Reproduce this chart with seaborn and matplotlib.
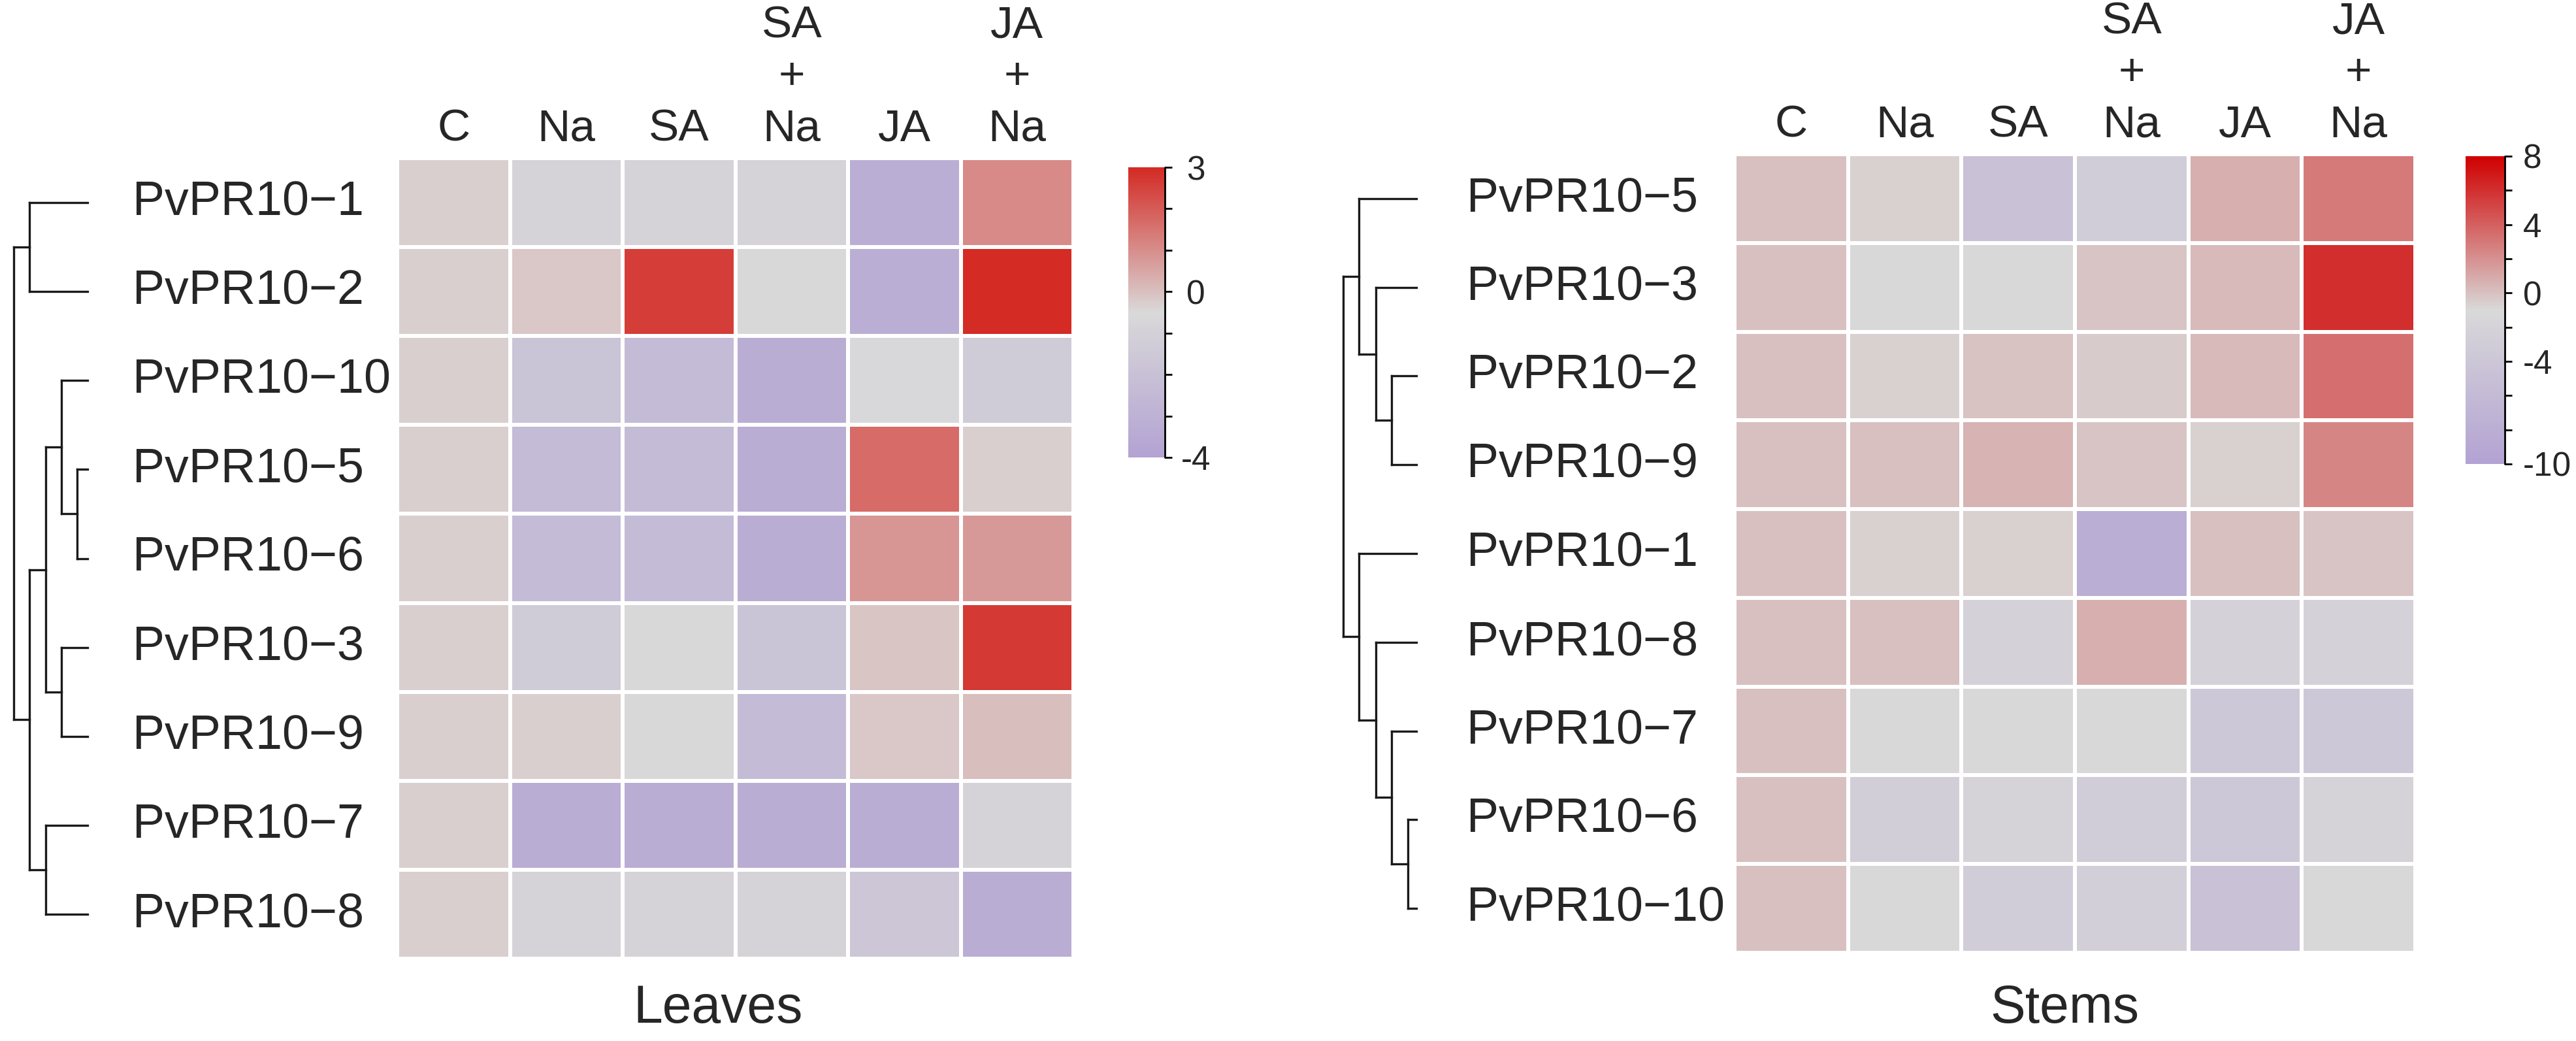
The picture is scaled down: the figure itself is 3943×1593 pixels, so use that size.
import numpy as np
import pandas as pd
import matplotlib
matplotlib.use("Agg")
import matplotlib.pyplot as plt
import seaborn as sns
from matplotlib.colors import LinearSegmentedColormap

# ---------------- data ----------------
treatments = ["C", "Na", "SA", "SA\n+\nNa", "JA", "JA\n+\nNa"]

leaves_genes = ["PvPR10−1", "PvPR10−2", "PvPR10−10", "PvPR10−5", "PvPR10−6",
                "PvPR10−3", "PvPR10−9", "PvPR10−7", "PvPR10−8"]
leaves_C    = [-0.30, -0.30, -0.30, -0.30, -0.30, -0.30, -0.30, -0.30, -0.30]
leaves_Na   = [-0.88, -0.16, -1.84, -2.41, -2.41, -1.39, -0.30, -3.30, -0.88]
leaves_SA   = [-0.88, 2.60, -2.41, -2.41, -2.41, -0.50, -0.50, -3.30, -0.88]
leaves_SANa = [-0.88, -0.50, -3.30, -3.30, -3.30, -1.84, -2.41, -3.30, -0.88]
leaves_JA   = [-3.24, -3.24, -0.63, 1.70, 0.86, -0.10, -0.16, -3.30, -1.71]
leaves_JANa = [1.08, 2.96, -1.39, -0.30, 0.76, 2.68, 0.02, -0.88, -3.30]

stems_genes = ["PvPR10−5", "PvPR10−3", "PvPR10−2", "PvPR10−9", "PvPR10−1",
               "PvPR10−8", "PvPR10−7", "PvPR10−6", "PvPR10−10"]
stems_C    = [0.05, 0.05, 0.05, 0.05, 0.05, 0.05, 0.05, 0.05, 0.05]
stems_Na   = [-0.6, -1.2, -0.6, 0.0, -0.6, 0.0, -1.2, -2.8, -1.2]
stems_SA   = [-4.8, -1.1, -0.05, 0.6, -0.6, -2.1, -1.1, -2.0, -3.0]
stems_SANa = [-3.0, -0.1, -0.4, -0.1, -8.0, 0.7, -1.1, -3.0, -2.6]
stems_JA   = [0.7, 0.3, 0.3, -0.6, 0.0, -2.1, -3.8, -3.8, -4.8]
stems_JANa = [3.0, 6.1, 3.4, 2.5, -0.1, -2.1, -3.8, -2.0, -1.2]

# dendrogram structure: (merge height, child, child)
leaves_tree = (113, (89, "PvPR10−1", "PvPR10−2"),
               (89, (64, (40, "PvPR10−10", (16, "PvPR10−5", "PvPR10−6")),
                     (40, "PvPR10−3", "PvPR10−9")),
                (64, "PvPR10−7", "PvPR10−8")))
stems_tree = (112, (88, "PvPR10−5", (62, "PvPR10−3", (38, "PvPR10−2", "PvPR10−9"))),
              (88, "PvPR10−1", (62, "PvPR10−8", (38, "PvPR10−7", (13, "PvPR10−6", "PvPR10−10")))))

leaves_ticks = [-4, -3, -2, -1, 0, 1, 2, 3]
leaves_ticklabels = ["-4", "", "", "", "0", "", "", "3"]
stems_ticks = [-10, -8, -6, -4, -2, 0, 2, 4, 6, 8]
stems_ticklabels = ["-10", "", "", "-4", "", "0", "", "4", "", "8"]

# ---------------- style ----------------
sns.set_theme(style="white")
plt.rcParams['font.family'] = ['Liberation Sans', 'DejaVu Sans']
plt.rcParams['axes.unicode_minus'] = False

W, H = 3943, 1593
fig = plt.figure(figsize=(W / 100, H / 100), dpi=100)
PT = 100 / 72.0  # px per point


def fx(px):
    return px / W


def fy(py):
    return 1 - py / H


def rect(x0, y0, x1, y1):
    return [fx(x0), fy(y1), fx(x1) - fx(x0), fy(y0) - fy(y1)]


def draw_tree(ax, node, order):
    if isinstance(node, str):
        return order.index(node) + 0.5, 0.0
    h, a, b = node
    ya, ha = draw_tree(ax, a, order)
    yb, hb = draw_tree(ax, b, order)
    kw = dict(color="#1a1a1a", lw=2.4, solid_capstyle="projecting", clip_on=False)
    ax.plot([ha, h], [ya, ya], **kw)
    ax.plot([hb, h], [yb, yb], **kw)
    ax.plot([h, h], [ya, yb], **kw)
    return (ya + yb) / 2.0, h


def panel(genes, cols, tree, vmin, vmax, hi_color, hm_box, cb_box, dd_box,
          label_x, ticks, ticklabels, title, title_x, cb_center):
    df = pd.DataFrame({t: c for t, c in zip(treatments, cols)}, index=genes)
    cmap = LinearSegmentedColormap.from_list("pk", ["#b3a2d3", "#d9d9d9", hi_color])
    ax = fig.add_axes(rect(*hm_box))
    cax = fig.add_axes(rect(*cb_box))
    sns.heatmap(df, ax=ax, cmap=cmap, vmin=vmin, vmax=vmax, linewidths=3,
                linecolor="white", cbar_ax=cax, xticklabels=True, yticklabels=True)
    ax.xaxis.tick_top()
    ax.tick_params(axis="x", length=0, pad=9, labelsize=50, rotation=0)
    for t in ax.get_xticklabels():
        t.set_linespacing(1.3)
        t.set_ha("center")
        t.set_va("bottom")
    ax.tick_params(axis="y", length=0, pad=(hm_box[0] - label_x) / PT,
                   labelsize=53, rotation=0)
    for t in ax.get_yticklabels():
        t.set_ha("left")
    ax.set_xlabel("")
    ax.set_ylabel("")

    cbar = ax.collections[0].colorbar
    cbar.set_ticks(ticks)
    cbar.set_ticklabels(ticklabels)
    cbar.outline.set_visible(False)
    if cb_center:
        cax.tick_params(length=8, width=2, color="black", labelsize=37,
                        pad=(cb_center - cb_box[2] - 11) / PT)
        for t in cax.get_yticklabels():
            t.set_ha("center")
    else:
        cax.tick_params(length=8, width=2, color="black", labelsize=37, pad=12)
    cax.plot([1, 1], [0, 1], transform=cax.transAxes, color="black", lw=2,
             clip_on=False)

    dax = fig.add_axes(rect(*dd_box))
    draw_tree(dax, tree, genes)
    dax.set_xlim(tree[0], 0)
    dax.set_ylim(len(genes), 0)
    dax.axis("off")

    fig.text(fx(title_x), fy(1565), title, ha="center", va="baseline", fontsize=58)


panel(leaves_genes,
      [leaves_C, leaves_Na, leaves_SA, leaves_SANa, leaves_JA, leaves_JANa],
      leaves_tree, -4, 3, "#d42a24",
      (608, 242, 1643, 1467), (1727, 256, 1783, 700), (21, 242, 134, 1467),
      203, leaves_ticks, leaves_ticklabels, "Leaves", 1099, 1830)

panel(stems_genes,
      [stems_C, stems_Na, stems_SA, stems_SANa, stems_JA, stems_JANa],
      stems_tree, -10, 8, "#d00000",
      (2655, 236, 3697, 1458), (3774, 239, 3834, 710), (2056, 236, 2168, 1458),
      2245, stems_ticks, stems_ticklabels, "Stems", 3160, None)

fig.savefig("out.png", dpi=100)
